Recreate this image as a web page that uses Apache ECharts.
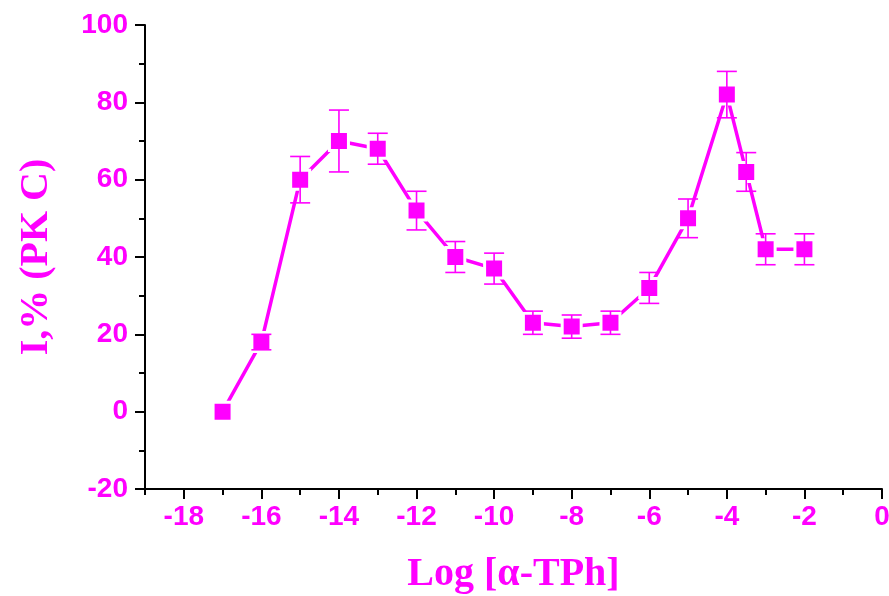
<!DOCTYPE html>
<html>
<head>
<meta charset="utf-8">
<script src="https://cdn.jsdelivr.net/npm/echarts@6/dist/echarts.min.js"></script>
<style>
  html, body { margin: 0; padding: 0; background: #fff; }
  #chart { width: 889px; height: 596px; }
</style>
</head>
<body>
<div id="chart"></div>
<script>
const logConc = [-17, -16, -15, -14, -13, -12, -11, -10, -9, -8, -7, -6, -5, -4, -3.5, -3, -2];
const inhibition = [0, 18, 60, 70, 68, 52, 40, 37, 23, 22, 23, 32, 50, 82, 62, 42, 42];
const errors = [0, 2, 6, 8, 4, 5, 4, 4, 3, 3, 3, 4, 5, 6, 5, 4, 4];
const xMajorTicks = [-18, -16, -14, -12, -10, -8, -6, -4, -2, 0];
const xMinorTicks = [-19, -17, -15, -13, -11, -9, -7, -5, -3, -1];

const magenta = '#ff00ff';
const labelFont = { color: magenta, fontFamily: 'Liberation Sans', fontWeight: 'bold', fontSize: 28 };
const titleFont = { color: magenta, fontFamily: 'Liberation Serif', fontWeight: 'bold', fontSize: 40 };

const myChart = echarts.init(document.getElementById('chart'), null, { renderer: 'canvas' });

myChart.setOption({
  animation: false,
  grid: { left: 145, right: 7, top: 25, bottom: 107, containLabel: false, outerBoundsMode: 'none' },
  xAxis: [
    {
      type: 'value',
      min: -19,
      max: 0,
      name: 'Log [α-TPh]',
      nameLocation: 'middle',
      nameGap: 66,
      nameTextStyle: titleFont,
      axisLine: { show: true, onZero: false, lineStyle: { color: '#000', width: 2 } },
      axisTick: { show: true, customValues: xMajorTicks, length: 10, lineStyle: { color: '#000', width: 2 } },
      axisLabel: Object.assign({ customValues: xMajorTicks, margin: 14 }, labelFont),
      splitLine: { show: false },
    },
    {
      type: 'value',
      min: -19,
      max: 0,
      position: 'bottom',
      axisLine: { show: false, onZero: false },
      axisTick: { show: true, customValues: xMinorTicks, length: 6, lineStyle: { color: '#000', width: 2 } },
      axisLabel: { show: false },
      splitLine: { show: false },
    },
  ],
  yAxis: {
    type: 'value',
    min: -20,
    max: 100,
    interval: 20,
    name: 'I,% (PK C)',
    nameLocation: 'middle',
    nameRotate: 90,
    nameGap: 88,
    nameTextStyle: titleFont,
    axisLine: { show: true, onZero: false, lineStyle: { color: '#000', width: 2 } },
    axisTick: { show: true, length: 10, lineStyle: { color: '#000', width: 2 } },
    minorTick: { show: true, splitNumber: 2, length: 6, lineStyle: { color: '#000', width: 2 } },
    axisLabel: Object.assign({ margin: 17 }, labelFont),
    splitLine: { show: false },
  },
  series: [
    {
      type: 'line',
      data: logConc.map((x, i) => [x, inhibition[i]]),
      symbol: 'rect',
      symbolSize: 19,
      lineStyle: { color: magenta, width: 3.5, cap: 'round' },
      itemStyle: { color: magenta, borderColor: '#fff', borderWidth: 3 },
      z: 2,
    },
    {
      type: 'custom',
      z: 3,
      data: logConc.map((x, i) => [x, inhibition[i], errors[i]]),
      renderItem: (params, api) => {
        const err = api.value(2);
        if (!err) return null;
        const x = api.value(0);
        const y = api.value(1);
        const top = api.coord([x, y + err]);
        const bot = api.coord([x, y - err]);
        const half = 10;
        const style = { stroke: magenta, lineWidth: 1.6 };
        return {
          type: 'group',
          children: [
            { type: 'line', shape: { x1: top[0], y1: top[1], x2: bot[0], y2: bot[1] }, style },
            { type: 'line', shape: { x1: top[0] - half, y1: top[1], x2: top[0] + half, y2: top[1] }, style },
            { type: 'line', shape: { x1: bot[0] - half, y1: bot[1], x2: bot[0] + half, y2: bot[1] }, style },
          ],
        };
      },
    },
  ],
});
</script>
</body>
</html>
